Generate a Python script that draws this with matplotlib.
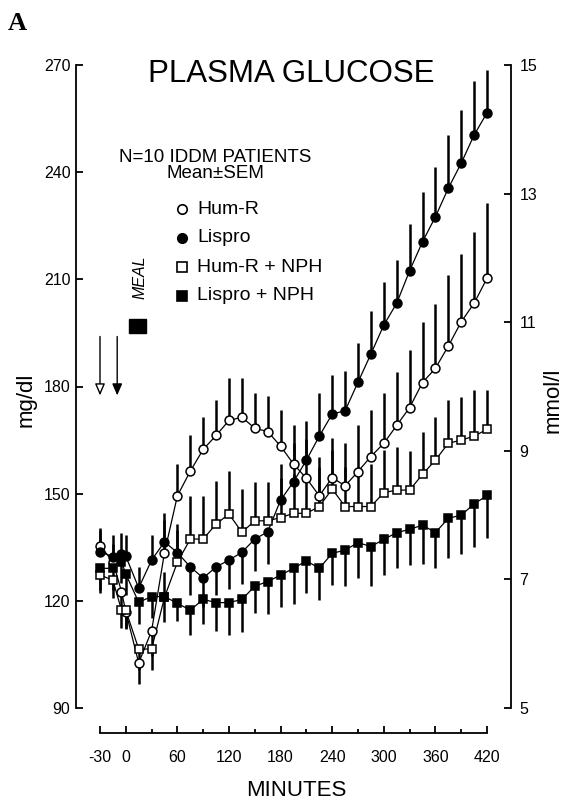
import matplotlib
matplotlib.use('Agg')
import matplotlib.pyplot as plt
from matplotlib.ticker import FixedLocator
from matplotlib.patches import Rectangle

plt.rcParams['font.family'] = ['Liberation Sans', 'DejaVu Sans']

# ---------------- data ----------------
minutes = [-30, -15, -5, 0, 15, 30, 45, 60, 75, 90, 105, 120, 135, 150, 165, 180,
           195, 210, 225, 240, 255, 270, 285, 300, 315, 330, 345, 360, 375, 390, 405, 420]

hum_r = [135.4, 131.0, 122.6, 117.0, 102.6, 111.6, 133.5, 149.4, 156.3, 162.4, 166.3,
         170.5, 171.4, 168.3, 167.4, 163.3, 158.3, 154.3, 149.4, 154.5, 152.2, 156.2,
         160.4, 164.1, 169.1, 174.1, 181.1, 185.1, 191.3, 198.1, 203.3, 210.3]
hum_r_sem = [5, 5, 5, 5, 6, 7, 9, 9, 10, 9, 10, 12, 11, 10, 10, 10,
             11, 11, 11, 11, 12, 13, 13, 14, 15, 16, 17, 18, 20, 19, 20, 21]
hum_r_dir = [1, 1, -1, -1, -1, -1, 1, 1, 1, 1, 1, 1, 1, 1, 1, 1,
             1, 1, 1, 1, 1, 1, 1, 1, 1, 1, 1, 1, 1, 1, 1, 1]

lispro = [133.7, 132.4, 133.0, 132.5, 123.6, 131.4, 136.5, 133.5, 129.5, 126.4, 129.5,
          131.4, 133.6, 137.3, 139.3, 148.2, 153.3, 159.4, 166.1, 172.3, 173.2, 181.2,
          189.1, 197.2, 203.3, 212.4, 220.5, 227.5, 235.5, 242.5, 250.4, 256.6]
lispro_sem = [6, 6, 6, 6, 6, 7, 8, 8, 8, 8, 8, 8, 9, 9, 9, 10,
              11, 11, 12, 11, 11, 11, 12, 12, 12, 13, 14, 14, 15, 15, 15, 12]
lispro_dir = [1, 1, 1, 1, 1, 1, 1, 1, -1, -1, -1, -1, -1, -1, -1, 1,
              1, 1, 1, 1, 1, 1, 1, 1, 1, 1, 1, 1, 1, 1, 1, 1]

hum_r_nph = [127.2, 125.8, 117.4, 117.4, 106.5, 106.5, 121.0, 130.8, 137.3, 137.3, 141.5,
             144.3, 139.2, 142.4, 142.4, 143.3, 144.5, 144.5, 146.4, 151.3, 146.4, 146.4,
             146.4, 150.3, 151.0, 151.0, 155.4, 159.4, 164.1, 165.0, 166.1, 168.0]
hum_r_nph_sem = [5, 5, 5, 5, 6, 6, 7, 9, 12, 12, 12, 12, 12, 11, 11, 11,
                 11, 11, 11, 11, 11, 11, 12, 12, 12, 11, 12, 12, 12, 12, 13, 11]
hum_r_nph_dir = [-1, -1, -1, -1, -1, -1, 1, 1, 1, 1, 1, 1, 1, 1, 1, 1,
                 1, 1, 1, 1, 1, 1, 1, 1, 1, 1, 1, 1, 1, 1, 1, 1]

lispro_nph = [129.1, 129.1, 131.0, 127.5, 119.6, 121.2, 121.2, 119.3, 117.4, 120.4, 119.5,
              119.5, 120.4, 124.1, 125.4, 127.2, 129.1, 131.2, 129.1, 133.3, 134.2, 136.3,
              135.2, 137.2, 139.1, 140.0, 141.2, 139.1, 143.1, 144.0, 147.1, 149.5]
lispro_nph_sem = [6, 6, 6, 6, 6, 6, 7, 5, 7, 7, 8, 9, 9, 7.5, 9, 9,
                  10, 9, 9, 9, 10, 10, 11, 10, 10, 10, 11, 10, 11, 11, 12, 12]
lispro_nph_dir = [-1] * 32

series = [
    ("Hum-R", hum_r, hum_r_sem, hum_r_dir, 'o', 'white'),
    ("Lispro", lispro, lispro_sem, lispro_dir, 'o', 'black'),
    ("Hum-R + NPH", hum_r_nph, hum_r_nph_sem, hum_r_nph_dir, 's', 'white'),
    ("Lispro + NPH", lispro_nph, lispro_nph_sem, lispro_nph_dir, 's', 'black'),
]

x_ticks = [-30, 0, 60, 120, 180, 240, 300, 360, 420]
x_minor = [30, 90, 150, 210, 270, 330, 390]
y_ticks = [90, 120, 150, 180, 210, 240, 270]
mmol_ticks = [5, 7, 9, 11, 13, 15]

injections = [(-30, 'white'), (-10, 'black')]
meal_start, meal_end = 4, 24

# ---------------- figure ----------------
W, H = 573, 809
fig = plt.figure(figsize=(W / 100, H / 100), dpi=100)

def fx(px):
    return px / W

def fy(py):
    return 1 - py / H

left_px, right_px, top_px, bot_px = 76, 511, 65, 708
ax = fig.add_axes([fx(left_px), fy(bot_px), fx(right_px) - fx(left_px), fy(top_px) - fy(bot_px)])
ax.set_ylim(90, 270)
ax.set_xlim(-57.9, 447.9)

for name, vals, sem, dirs, mk, fc in series:
    ax.plot(minutes, vals, color='black', lw=0.9, zorder=3)
    ends = [v + d * s for v, d, s in zip(vals, dirs, sem)]
    ax.vlines(minutes, vals, ends, color='black', lw=1.8, zorder=2)
    ax.plot(minutes, vals, linestyle='none', marker=mk, markersize=6.4 if mk == 'o' else 6.2,
            markerfacecolor=fc, markeredgecolor='black', markeredgewidth=1.1, zorder=4)

# spines
ax.spines['top'].set_visible(False)
ax.spines['right'].set_visible(False)
ax.spines['bottom'].set_position(('outward', 18))
ax.spines['bottom'].set_bounds(-30, 420)
for s in ['left', 'bottom']:
    ax.spines[s].set_linewidth(1.3)

ax.xaxis.set_major_locator(FixedLocator(x_ticks))
ax.xaxis.set_minor_locator(FixedLocator(x_minor))
ax.set_xticklabels([str(t) for t in x_ticks])
ax.yaxis.set_major_locator(FixedLocator(y_ticks))
ax.set_yticklabels([str(t) for t in y_ticks])
ax.tick_params(axis='both', which='major', direction='in', length=5, width=1.3,
               labelsize=11.5, pad=4)
ax.tick_params(axis='x', which='minor', direction='in', length=3, width=1.3)
ax.tick_params(axis='x', which='major', pad=12)

ax2 = ax.twinx()
ax2.set_ylim(90 / 18, 270 / 18)
ax2.spines['top'].set_visible(False)
ax2.spines['left'].set_visible(False)
ax2.spines['bottom'].set_visible(False)
ax2.spines['right'].set_linewidth(1.3)
ax2.yaxis.set_major_locator(FixedLocator(mmol_ticks))
ax2.set_yticklabels([str(t) for t in mmol_ticks])
ax2.tick_params(axis='y', direction='in', length=5, width=1.3, labelsize=11.5, pad=6)

# labels
fig.text(fx(26), fy(400), 'mg/dl', rotation=90, ha='center', va='center', fontsize=16)
fig.text(fx(553), fy(400), 'mmol/l', rotation=90, ha='center', va='center', fontsize=16)
fig.text(fx(296), fy(790), 'MINUTES', ha='center', va='center', fontsize=16)
fig.text(fx(8), fy(23), 'A', ha='left', va='center', fontsize=19, fontweight='bold',
         family=['Liberation Serif', 'DejaVu Serif'])
fig.text(fx(291), fy(74), 'PLASMA GLUCOSE', ha='center', va='center', fontsize=22.5)
fig.text(fx(215), fy(157), 'N=10 IDDM PATIENTS', ha='center', va='center', fontsize=13.5)
fig.text(fx(215), fy(173), 'Mean±SEM', ha='center', va='center', fontsize=13.5)

legend_rows = [209, 238, 267, 296]
for (name, vals, sem, dirs, mk, fc), ry in zip(series, legend_rows):
    ax.plot([fx(182)], [fy(ry)], transform=fig.transFigure, marker=mk, markersize=6.8,
            markerfacecolor=fc, markeredgecolor='black', markeredgewidth=1.2, linestyle='none',
            clip_on=False)
    fig.text(fx(197), fy(ry), name, ha='left', va='center', fontsize=14)

# injection arrows
for t, fc in injections:
    ax.annotate('', xy=(t, 177.5), xytext=(t, 194.0),
                arrowprops=dict(arrowstyle='-|>,head_length=0.7,head_width=0.3',
                                lw=1.0, facecolor=fc, edgecolor='black', shrinkA=0, shrinkB=0))

# meal bar and label
ax.add_patch(Rectangle((meal_start, 195.0), meal_end - meal_start, 3.8,
                       facecolor='black', edgecolor='black', zorder=3))
ax.text(16, 210.5, 'MEAL', rotation=90, ha='center', va='center', fontsize=11.5,
        style='italic')

fig.savefig('out.png', dpi=100)
